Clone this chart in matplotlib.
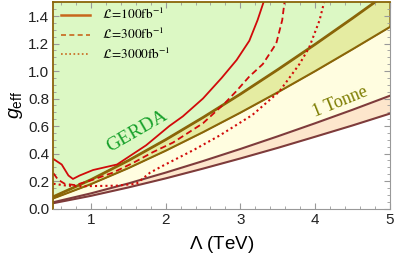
import matplotlib
matplotlib.use("Agg")
import matplotlib.pyplot as plt
from matplotlib.font_manager import FontProperties
from matplotlib.ticker import MultipleLocator

plt.rcParams['font.family'] = ['Liberation Sans', 'DejaVu Sans']
plt.rcParams['mathtext.fontset'] = 'custom'
plt.rcParams['mathtext.rm'] = 'Liberation Sans'
plt.rcParams['mathtext.it'] = 'Liberation Sans:italic'

# exclusion band edges (Lambda in TeV)
lam_band = [0.5, 1.0, 1.5, 2.0, 2.5, 3.0, 3.5, 4.0, 4.5, 5.0]
gerda_upper = [0.089, 0.212, 0.351, 0.503, 0.665, 0.835, 1.013, 1.197, 1.387, 1.582]
gerda_lower = [0.074, 0.177, 0.293, 0.42, 0.555, 0.697, 0.845, 0.999, 1.158, 1.32]
tonne_upper = [0.046, 0.11, 0.182, 0.261, 0.345, 0.433, 0.525, 0.62, 0.718, 0.82]
tonne_lower = [0.039, 0.092, 0.153, 0.219, 0.29, 0.364, 0.441, 0.522, 0.604, 0.69]

# LHC reach curves
lam_100 = [0.5, 0.61, 0.70, 0.76, 0.85, 1.03, 1.35, 1.74, 2.05, 2.23, 2.5, 2.75, 2.95, 3.12, 3.23, 3.31]
g_100 = [0.36, 0.32, 0.24, 0.215, 0.24, 0.28, 0.32, 0.46, 0.60, 0.67, 0.80, 0.95, 1.08, 1.22, 1.37, 1.5]

lam_300 = [0.5, 0.56, 0.65, 0.79, 1.03, 1.29, 1.56, 1.83, 2.1, 2.5, 2.79, 2.94, 3.12, 3.3, 3.48, 3.56, 3.59]
g_300 = [0.256, 0.21, 0.18, 0.17, 0.21, 0.26, 0.33, 0.41, 0.48, 0.62, 0.765, 0.85, 0.96, 1.05, 1.2, 1.37, 1.5]

lam_3000 = [0.5, 0.68, 0.89, 1.34, 1.61, 1.70, 1.79, 1.96, 2.14, 2.39, 2.72, 3.16, 3.52, 3.79, 3.92, 4.06, 4.12]
g_3000 = [0.18, 0.166, 0.162, 0.166, 0.18, 0.22, 0.26, 0.31, 0.36, 0.43, 0.53, 0.68, 0.85, 1.05, 1.17, 1.37, 1.5]

lumi_labels = [r'$\mathcal{L}\!=\!100\mathrm{fb}^{-1}$',
               r'$\mathcal{L}\!=\!300\mathrm{fb}^{-1}$',
               r'$\mathcal{L}\!=\!3000\mathrm{fb}^{-1}$']

olive = '#8a6508'
brown = '#7e3b3b'
red = '#d10a0a'
orange = '#c8661c'

fig = plt.figure(figsize=(3.95, 2.57), dpi=100)
ax = fig.add_axes([0.1354, 0.1887, 0.8516, 0.8025])

ax.fill_between(lam_band, gerda_upper, 1.6, color='#dcf8c4', lw=0)
ax.fill_between(lam_band, gerda_lower, gerda_upper, facecolor='#e5eca2', edgecolor=olive, lw=1.5)
ax.fill_between(lam_band, tonne_upper, gerda_lower, color='#fffde0', lw=0)
ax.fill_between(lam_band, tonne_lower, tonne_upper, color='#fde6cc', lw=0)

ax.plot(lam_band, gerda_upper, color=olive, lw=1.5)
ax.plot(lam_band, gerda_lower, color=olive, lw=1.5)
ax.plot(lam_band, tonne_upper, color=brown, lw=1.5)
ax.plot(lam_band, tonne_lower, color=brown, lw=1.5)

ax.plot(lam_100, g_100, color=red, lw=1.3)
ax.plot(lam_300, g_300, color=red, lw=1.3, ls=(0, (3.5, 2)))
ax.plot(lam_3000, g_3000, color=red, lw=1.5, ls=(0, (1, 1.5)))

# legend handles drawn in orange as in the original
h1, = ax.plot([], [], color=orange, lw=1.8)
h2, = ax.plot([], [], color=orange, lw=1.2, ls=(0, (3, 2)))
h3, = ax.plot([], [], color=orange, lw=1.2, ls=(0, (1, 1.5)))
leg_font = FontProperties(family='Liberation Serif', size=9.5, math_fontfamily='stix')
ax.legend([h1, h2, h3], lumi_labels, loc='upper left', bbox_to_anchor=(-0.005, 1.02),
          frameon=False, prop=leg_font, handlelength=2.2, handletextpad=0.9,
          labelspacing=0.35, borderaxespad=0.3)

ax.text(1.62, 0.56, 'GERDA', color='#16a02a', fontsize=14, family='Liberation Serif',
        rotation=30, ha='center', va='center')
ax.text(4.33, 0.775, '1 Tonne', color='#7c7c00', fontsize=13, family='Liberation Serif',
        rotation=22, ha='center', va='center')

ax.set_xlim(0.5, 5)
ax.set_ylim(0, 1.5)
ax.set_xticks([1, 2, 3, 4, 5])
ax.set_yticks([0.0, 0.2, 0.4, 0.6, 0.8, 1.0, 1.2, 1.4])
ax.set_yticklabels(['0.0', '0.2', '0.4', '0.6', '0.8', '1.0', '1.2', '1.4'])
ax.xaxis.set_minor_locator(MultipleLocator(0.2))
ax.yaxis.set_minor_locator(MultipleLocator(0.05))
ax.tick_params(which='both', direction='in', top=True, right=True, color='#999999',
               labelsize=11, labelcolor='#222222', pad=3)
ax.tick_params(which='major', length=4, width=0.8)
ax.tick_params(which='minor', length=2.2, width=0.6)

for side in ['bottom', 'right']:
    ax.spines[side].set_color('#999999')
for side in ['top', 'left']:
    ax.spines[side].set_color(olive)
    ax.spines[side].set_linewidth(1.3)

ax.set_xlabel(r'$\Lambda$ (TeV)', fontsize=13.5, labelpad=5)
ax.set_ylabel(r'$g_{\mathrm{eff}}$', fontsize=14, labelpad=2)

fig.savefig('out.png', dpi=100)
